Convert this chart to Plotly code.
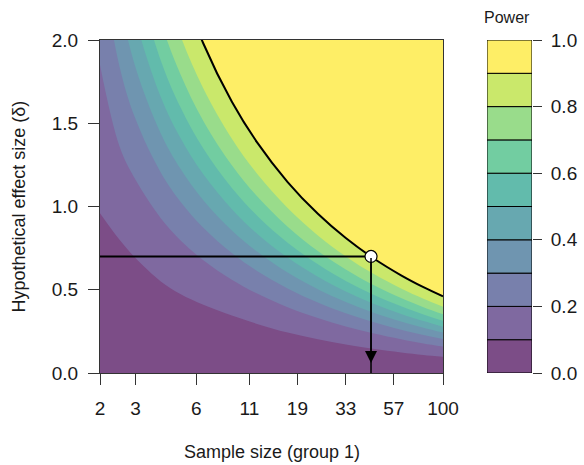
import math
import plotly.graph_objects as go

# ---- data: power contour boundaries (effect size delta at which power reaches a level) ----
sample_size = [2, 2.5, 3, 4, 5, 6.5, 9, 12, 17, 24, 33, 45, 62, 80, 100]

delta_p10 = [0.96, 0.80, 0.69, 0.55, 0.475, 0.41, 0.345, 0.295, 0.243, 0.202, 0.171, 0.1455, 0.1236, 0.1085, 0.0969]
delta_p20 = [1.85, 1.36, 1.16, 0.93, 0.798, 0.677, 0.560, 0.477, 0.395, 0.3297, 0.2796, 0.2383, 0.2025, 0.1779, 0.1589]
delta_p30 = [2.5, 1.84, 1.525, 1.204, 1.030, 0.872, 0.720, 0.613, 0.508, 0.4233, 0.3589, 0.3059, 0.2599, 0.2284, 0.2040]
delta_p40 = [3.08, 2.24, 1.835, 1.439, 1.228, 1.038, 0.856, 0.729, 0.6036, 0.5033, 0.4266, 0.3637, 0.3090, 0.2715, 0.2425]
delta_p50 = [3.65, 2.61, 2.125, 1.658, 1.413, 1.193, 0.984, 0.837, 0.6932, 0.5780, 0.4900, 0.4177, 0.3549, 0.3118, 0.2785]
delta_p60 = [4.24, 2.98, 2.414, 1.877, 1.598, 1.348, 1.111, 0.945, 0.7829, 0.6527, 0.5533, 0.4717, 0.4007, 0.3521, 0.3145]
delta_p70 = [5.0, 3.38, 2.725, 2.112, 1.796, 1.514, 1.248, 1.061, 0.8788, 0.7326, 0.6211, 0.5295, 0.4498, 0.3952, 0.3531]
delta_p80 = [5.9, 3.84, 3.088, 2.387, 2.027, 1.709, 1.407, 1.197, 0.9911, 0.8262, 0.7004, 0.5971, 0.5072, 0.4457, 0.3981]
delta_p90 = [7.0, 4.49, 3.591, 2.768, 2.348, 1.979, 1.629, 1.385, 1.1468, 0.9560, 0.8104, 0.6909, 0.5869, 0.5157, 0.4606]

power_levels = [0.0, 0.1, 0.2, 0.3, 0.4, 0.5, 0.6, 0.7, 0.8, 0.9, 1.0]

x_tick_values = [2, 3, 6, 11, 19, 33, 57, 100]
y_tick_values = [0.0, 0.5, 1.0, 1.5, 2.0]
power_tick_values = [0.0, 0.2, 0.4, 0.6, 0.8, 1.0]

target_n = 44
target_delta = 0.7
delta_range = [0.0, 2.0]
arrow_tip_delta = 0.06

# ---- styling ----
viridis10 = ["#440154", "#482878", "#3E4A89", "#31688E", "#26828E",
             "#1F9E89", "#35B779", "#6DCD59", "#B4DE2C", "#FDE725"]
alpha = 0.7


def blend(hex_color, a):
    r = int(hex_color[1:3], 16)
    g = int(hex_color[3:5], 16)
    b = int(hex_color[5:7], 16)
    r = round(a * r + (1 - a) * 255)
    g = round(a * g + (1 - a) * 255)
    b = round(a * b + (1 - a) * 255)
    return f"rgb({r},{g},{b})"


band_colors = [blend(c, alpha) for c in viridis10]
boundaries = [delta_p10, delta_p20, delta_p30, delta_p40, delta_p50,
              delta_p60, delta_p70, delta_p80, delta_p90]

FONT = "Liberation Sans, Arial, Helvetica, sans-serif"
TXT = "#1a1a1a"
AX = "#333333"

fig = go.Figure()

# filled bands: paint the area below each boundary, from the highest level down
for i in reversed(range(len(boundaries))):
    fig.add_trace(go.Scatter(
        x=sample_size, y=boundaries[i], mode="lines",
        line=dict(width=0, shape="spline", smoothing=1),
        fill="tozeroy", fillcolor=band_colors[i],
        hoverinfo="skip", showlegend=False,
    ))

# power = 0.9 contour line
fig.add_trace(go.Scatter(
    x=sample_size, y=delta_p90, mode="lines",
    line=dict(color="black", width=2, shape="spline", smoothing=1),
    hoverinfo="skip", showlegend=False,
))

# horizontal guide at the chosen effect size
fig.add_trace(go.Scatter(
    x=[sample_size[0], target_n], y=[target_delta, target_delta], mode="lines",
    line=dict(color="black", width=2), hoverinfo="skip", showlegend=False,
))
# vertical guide down to the axis
fig.add_trace(go.Scatter(
    x=[target_n, target_n], y=[target_delta, delta_range[0]], mode="lines",
    line=dict(color="black", width=1.5), hoverinfo="skip", showlegend=False,
))
# design point
fig.add_trace(go.Scatter(
    x=[target_n], y=[target_delta], mode="markers",
    marker=dict(size=12, color="white", line=dict(color="black", width=1.2)),
    hoverinfo="skip", showlegend=False,
))

# colour key as stacked bars
fig.add_trace(go.Bar(
    x=[0] * (len(power_levels) - 1),
    y=[power_levels[k + 1] - power_levels[k] for k in range(len(power_levels) - 1)],
    base=power_levels[:-1],
    width=1,
    marker=dict(color=band_colors, line=dict(color="black", width=1)),
    xaxis="x2", yaxis="y2", hoverinfo="skip", showlegend=False,
))

main_right = 343 / 432
fig.update_layout(
    width=584, height=465,
    autosize=False,
    margin=dict(l=100, r=52, t=40, b=92, autoexpand=False),
    paper_bgcolor="white",
    plot_bgcolor=band_colors[-1],
    font=dict(family=FONT, size=19, color=TXT),
    xaxis=dict(
        type="log", domain=[0, main_right], automargin=False,
        range=[math.log10(sample_size[0]), math.log10(sample_size[-1])],
        tickvals=x_tick_values, ticktext=[str(v) for v in x_tick_values],
        ticks="outside", ticklen=11, tickwidth=1, tickcolor=AX,
        ticklabelstandoff=7,
        showline=True, linecolor=AX, linewidth=1, mirror=True,
        showgrid=False, zeroline=False,
    ),
    yaxis=dict(
        range=delta_range, tickvals=y_tick_values, tickformat=".1f",
        automargin=False,
        ticks="outside", ticklen=11, tickwidth=1, tickcolor=AX,
        ticklabelstandoff=6,
        showline=True, linecolor=AX, linewidth=1, mirror=True,
        showgrid=False, zeroline=False,
    ),
    xaxis2=dict(
        domain=[387 / 432, 1.0], anchor="y2", range=[-0.5, 0.5],
        visible=False, fixedrange=True, automargin=False,
    ),
    yaxis2=dict(
        anchor="x2", side="right", range=[power_levels[0], power_levels[-1]],
        tickvals=power_tick_values, tickformat=".1f", automargin=False,
        ticks="outside", ticklen=9, tickwidth=1, tickcolor=AX,
        ticklabelstandoff=5,
        showline=False, showgrid=False, zeroline=False,
    ),
    annotations=[
        dict(text="Sample size (group 1)", xref="paper", yref="paper",
             x=main_right / 2, y=(373 - 452) / 333, xanchor="center", yanchor="middle",
             showarrow=False, font=dict(size=18)),
        dict(text="Hypothetical effect size (δ)", xref="paper", yref="paper",
             x=(18 - 100) / 432, y=0.5, xanchor="center", yanchor="middle",
             textangle=-90, showarrow=False, font=dict(size=18)),
        dict(text="Power", xref="paper", yref="paper",
             x=(507 - 100) / 432, y=(373 - 18) / 333, xanchor="center", yanchor="middle",
             showarrow=False, font=dict(size=16)),
        dict(text="", xref="x", yref="y", axref="x", ayref="y",
             x=math.log10(target_n), y=arrow_tip_delta,
             ax=math.log10(target_n), ay=target_delta,
             showarrow=True, arrowhead=2, arrowsize=1.6, arrowwidth=1.5,
             arrowcolor="black", standoff=0, startstandoff=0),
    ],
)

fig.write_html("out.html", config={"displayModeBar": False},
               post_script="document.body.style.margin='0px';")
